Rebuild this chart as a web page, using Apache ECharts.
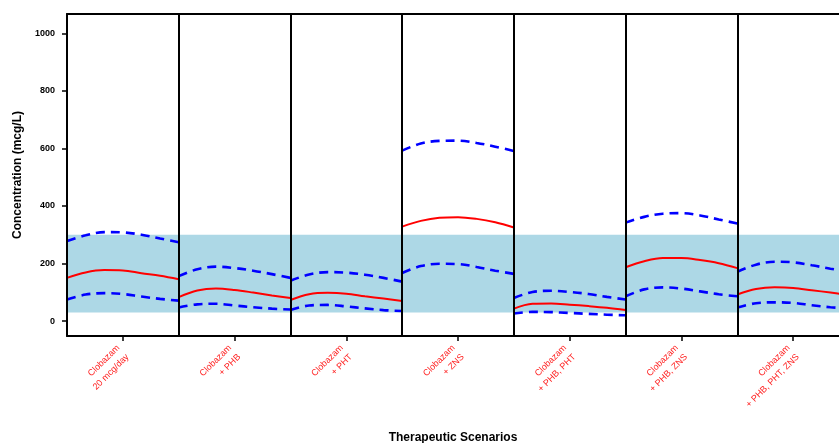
<!DOCTYPE html>
<html>
<head>
<meta charset="utf-8">
<script src="https://cdn.jsdelivr.net/npm/echarts@6/dist/echarts.min.js"></script>
<style>
  html, body { margin: 0; padding: 0; background: #fff; }
  #chart { width: 839px; height: 443px; }
</style>
</head>
<body>
<div id="chart"></div>
<script>
// Scenario labels, one panel each
const scenarios = [
  'Clobazam\n20 mcg/day',
  'Clobazam\n+ PHB',
  'Clobazam\n+ PHT',
  'Clobazam\n+ ZNS',
  'Clobazam\n+ PHB, PHT',
  'Clobazam\n+ PHB, ZNS',
  'Clobazam\n+ PHB, PHT, ZNS'
];

// Concentration profiles (mcg/L), 7 evenly spaced points across each panel
const median = [
  [150, 169, 177, 176, 166, 157, 145],
  [83, 106, 113, 108, 99, 89, 80],
  [73, 93, 98, 95, 86, 78, 70],
  [328, 348, 359, 361, 355, 343, 325],
  [43, 60, 61, 57, 52, 46, 38],
  [187, 208, 219, 219, 212, 201, 184],
  [92, 111, 117, 115, 107, 99, 90]
];
const upper = [
  [278, 298, 309, 308, 300, 287, 274],
  [156, 180, 189, 184, 175, 163, 150],
  [140, 162, 170, 168, 161, 150, 137],
  [592, 617, 626, 627, 619, 606, 591],
  [80, 101, 105, 101, 94, 84, 75],
  [342, 362, 373, 375, 367, 353, 339],
  [171, 196, 206, 204, 194, 182, 172]
];
const lower = [
  [75, 92, 97, 94, 85, 77, 71],
  [47, 58, 60, 54, 48, 43, 40],
  [38, 54, 56, 51, 44, 38, 35],
  [167, 191, 199, 198, 188, 175, 164],
  [26, 32, 31, 28, 25, 22, 20],
  [86, 110, 117, 113, 103, 93, 86],
  [47, 62, 65, 63, 55, 48, 44]
];

// Therapeutic reference range (mcg/L)
const targetRange = [30, 300];
const yTicks = [0, 200, 400, 600, 800, 1000];
const panelCenters = scenarios.map((_, i) => i + 0.5);

// The plotting region runs a little past the canvas edge, so the last panel is clipped
const xVisibleMax = 6.91;

// Lay each panel's profile over [p, p+1] with a gap between panels
function panelSeries(profiles) {
  const out = [];
  profiles.forEach((vals, p) => {
    vals.forEach((v, k) => out.push([p + k / (vals.length - 1), v]));
    out.push([p + 1, '-']);
  });
  return out;
}

const font = 'Liberation Sans, Arial, Helvetica, sans-serif';
const chart = echarts.init(document.getElementById('chart'), null, { renderer: 'canvas' });

const dividers = [];
for (let i = 1; i < scenarios.length; i++) dividers.push({ xAxis: i });

const dashed = { color: '#0000ff', width: 2.6, type: [9, 6] };

chart.setOption({
  animation: false,
  backgroundColor: '#fff',
  grid: { left: 67, top: 14, right: 0, height: 322, outerBoundsMode: 'none', containLabel: false },
  xAxis: [
    {
      type: 'value',
      min: 0, max: xVisibleMax,
      position: 'bottom',
      z: 10,
      axisLine: { show: true, onZero: false, lineStyle: { color: '#000', width: 2 } },
      axisTick: { show: true, customValues: panelCenters, length: 5, lineStyle: { color: '#000', width: 1.5 } },
      axisLabel: {
        customValues: panelCenters,
        formatter: (v) => scenarios[Math.floor(v)],
        rotate: 45, margin: 15, color: '#ff2020',
        fontFamily: font, fontSize: 9, lineHeight: 13
      },
      splitLine: { show: false },
      name: 'Therapeutic Scenarios',
      nameLocation: 'middle',
      nameGap: 96,
      nameTextStyle: { fontFamily: font, fontWeight: 'bold', fontSize: 12, color: '#000', align: 'center' }
    },
    {
      type: 'value',
      min: 0, max: xVisibleMax,
      position: 'top',
      z: 10,
      axisLine: { show: true, onZero: false, lineStyle: { color: '#000', width: 2 } },
      axisTick: { show: false },
      axisLabel: { show: false },
      splitLine: { show: false }
    }
  ],
  yAxis: {
    type: 'value',
    min: -52, max: 1067,
    z: 10,
    axisLine: { show: true, onZero: false, lineStyle: { color: '#000', width: 2 } },
    axisTick: { show: true, length: 5, customValues: yTicks, lineStyle: { color: '#000', width: 1.5 } },
    axisLabel: {
      customValues: yTicks, margin: 12,
      formatter: (v) => String(v),
      fontFamily: font, fontWeight: 'bold', fontSize: 9, color: '#000'
    },
    splitLine: { show: false },
    name: 'Concentration (mcg/L)',
    nameLocation: 'middle',
    nameGap: 38,
    nameRotate: 90,
    nameTextStyle: { fontFamily: font, fontWeight: 'bold', fontSize: 12, color: '#000' }
  },
  series: [
    {
      name: 'range',
      type: 'line',
      data: [],
      silent: true,
      z: 1,
      markArea: {
        silent: true,
        itemStyle: { color: '#add8e6', opacity: 1 },
        data: [[{ yAxis: targetRange[0], xAxis: 0 }, { yAxis: targetRange[1], xAxis: xVisibleMax }]]
      }
    },
    {
      name: 'upper',
      type: 'line',
      data: panelSeries(upper),
      smooth: 0.35,
      showSymbol: false,
      connectNulls: false,
      z: 3,
      lineStyle: dashed
    },
    {
      name: 'lower',
      type: 'line',
      data: panelSeries(lower),
      smooth: 0.35,
      showSymbol: false,
      connectNulls: false,
      z: 3,
      lineStyle: dashed
    },
    {
      name: 'median',
      type: 'line',
      data: panelSeries(median),
      smooth: 0.35,
      showSymbol: false,
      connectNulls: false,
      z: 4,
      lineStyle: { color: '#ff0000', width: 2 }
    },
    {
      name: 'dividers',
      type: 'line',
      data: [],
      z: 6,
      markLine: {
        silent: true,
        symbol: ['none', 'none'],
        label: { show: false },
        lineStyle: { color: '#000', width: 2, type: 'solid' },
        data: dividers
      }
    }
  ]
});
</script>
</body>
</html>
